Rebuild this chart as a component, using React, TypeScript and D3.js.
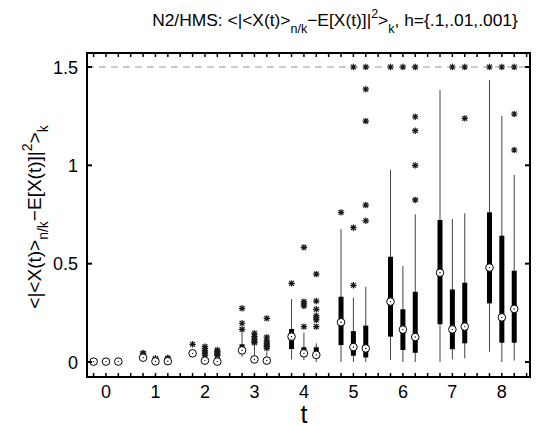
import React from "react";
import * as d3 from "d3";

// t groups and the three step sizes h per group
const groups = [0, 1, 2, 3, 4, 5, 6, 7, 8];
const hLabels = [".1", ".01", ".001"];

// box statistics, ordered t=0 (h=.1,.01,.001), t=1 (...), ...
const medians = [0.002, 0.002, 0.002, 0.022, 0.003, 0.004, 0.044, 0.007, 0.002, 0.059, 0.013, 0.007, 0.129, 0.044, 0.036, 0.202, 0.076, 0.069, 0.307, 0.165, 0.127, 0.454, 0.166, 0.18, 0.48, 0.227, 0.27];
const q1s = [0.001, 0.001, 0.001, 0.015, 0.001, 0.002, 0.04, 0.003, 0.001, 0.05, 0.005, 0.002, 0.066, 0.027, 0.019, 0.086, 0.032, 0.023, 0.129, 0.061, 0.047, 0.192, 0.065, 0.095, 0.298, 0.098, 0.098];
const q3s = [0.004, 0.004, 0.004, 0.035, 0.008, 0.012, 0.05, 0.02, 0.015, 0.09, 0.03, 0.02, 0.168, 0.075, 0.075, 0.332, 0.157, 0.185, 0.535, 0.268, 0.357, 0.722, 0.369, 0.403, 0.761, 0.642, 0.464];
const whiskLo = [0, 0, 0, 0.008, 0, 0, 0.035, 0, 0, 0.027, 0, 0, 0.013, 0.01, 0, 0, 0, 0, 0.01, 0, 0, 0, 0.013, 0.019, 0.052, 0, 0.007];
const whiskHi = [0.006, 0.006, 0.006, 0.04, 0.012, 0.015, 0.055, 0.03, 0.025, 0.15, 0.09, 0.05, 0.32, 0.15, 0.095, 0.676, 0.327, 0.383, 0.976, 0.488, 0.751, 1.383, 0.727, 0.756, 1.434, 1.251, 0.951];
const outliers: number[][] = [
  [], [], [],
  [0.042, 0.045], [0.015, 0.018], [0.018, 0.02],
  [0.09], [0.035, 0.045, 0.057, 0.068, 0.078], [0.034, 0.04, 0.047, 0.054, 0.061],
  [0.166, 0.197, 0.273], [0.098, 0.105, 0.115, 0.129, 0.146], [0.07, 0.078, 0.086, 0.096, 0.107, 0.126, 0.222],
  [0.4], [0.18, 0.285, 0.295, 0.307, 0.583], [0.18, 0.214, 0.225, 0.235, 0.268, 0.31, 0.447],
  [0.761], [0.39, 0.683, 1.5], [0.718, 0.798, 1.225, 1.387, 1.5],
  [1.5], [1.5], [0.824, 1.0, 1.176, 1.247, 1.5],
  [], [1.5], [1.239, 1.5],
  [1.5], [1.5], [1.078, 1.261, 1.5],
];
const yTicks = [0, 0.5, 1, 1.5];
const clipValue = 1.5;

const W = 539;
const H = 427;
const left = 87, right = 530, top = 53, bottom = 377;

export default function App() {
  const x = d3.scaleLinear().domain([0, 35]).range([93.6, 526.6]);
  const y = d3.scaleLinear().domain([0, 1.5]).range([362, 67]);
  const font = "'Liberation Sans', Arial, Helvetica, sans-serif";

  const boxes = medians.map((m, i) => {
    const g = Math.floor(i / 3);
    const j = i % 3;
    return { pos: g * 4 + j, med: m, q1: q1s[i], q3: q3s[i], lo: whiskLo[i], hi: whiskHi[i], out: outliers[i], h: hLabels[j] };
  });
  const tickPositions = d3.range(0, 36);
  const star = (cx: number, cy: number, k: string) => {
    const r = 3.2, d = 2.4;
    return (
      <path key={k} d={`M${cx - r},${cy}H${cx + r}M${cx},${cy - r}V${cy + r}M${cx - d},${cy - d}L${cx + d},${cy + d}M${cx - d},${cy + d}L${cx + d},${cy - d}`} stroke="#1a1a1a" strokeWidth={1.2} fill="none" />
    );
  };

  return (
    <svg width={W} height={H} style={{ position: "absolute", left: 0, top: 0, background: "#fff" }} fontFamily={font}>
      <rect x={0} y={0} width={W} height={H} fill="#fff" />
      {/* title */}
      <text x={335} y={26} fontSize={17.4} textAnchor="middle" fill="#000">
        <tspan>N2/HMS: &lt;|&lt;X(t)&gt;</tspan>
        <tspan fontSize={12.5} dy={7}>n/k</tspan>
        <tspan dy={-7}>−E[X(t)]|</tspan>
        <tspan fontSize={12.5} dy={-8}>2</tspan>
        <tspan dy={8}>&gt;</tspan>
        <tspan fontSize={12.5} dy={7}>k</tspan>
        <tspan dy={-7}>, h={"{"}.1,.01,.001{"}"}</tspan>
      </text>
      {/* y label */}
      <text transform={`translate(41,${(top + bottom) / 2 + 2}) rotate(-90)`} fontSize={19} textAnchor="middle" fill="#000">
        <tspan>&lt;|&lt;X(t)&gt;</tspan>
        <tspan fontSize={14} dy={7}>n/k</tspan>
        <tspan dy={-7}>−E[X(t)]|</tspan>
        <tspan fontSize={14} dy={-9}>2</tspan>
        <tspan dy={9}>&gt;</tspan>
        <tspan fontSize={14} dy={7}>k</tspan>
      </text>
      {/* dashed clip line */}
      <line x1={left} x2={right} y1={y(clipValue)} y2={y(clipValue)} stroke="#999" strokeWidth={1} strokeDasharray="7,5" />
      {/* boxes */}
      {boxes.map((b, i) => {
        const cx = x(b.pos);
        return (
          <g key={i}>
            <line x1={cx} x2={cx} y1={y(b.lo)} y2={y(b.hi)} stroke="#444" strokeWidth={1} />
            <rect x={cx - 2.5} width={5} y={y(b.q3)} height={Math.max(0.5, y(b.q1) - y(b.q3))} fill="#000" />
            {b.out.map((o, k) => star(cx, y(o), `${i}-${k}`))}
            <circle cx={cx} cy={y(b.med)} r={3.8} fill="#fff" stroke="#000" strokeWidth={1} />
            <circle cx={cx} cy={y(b.med)} r={0.7} fill="#000" />
          </g>
        );
      })}
      {/* frame */}
      <rect x={left} y={top} width={right - left} height={bottom - top} fill="none" stroke="#000" strokeWidth={2} />
      {/* x ticks */}
      {tickPositions.map((p) => (
        <g key={p}>
          <line x1={x(p)} x2={x(p)} y1={bottom} y2={bottom - 4} stroke="#000" strokeWidth={1.5} />
          <line x1={x(p)} x2={x(p)} y1={top} y2={top + 4} stroke="#000" strokeWidth={1.5} />
        </g>
      ))}
      {groups.map((g) => (
        <text key={g} x={x(g * 4 + 1)} y={398} fontSize={18} textAnchor="middle" fill="#000">{g}</text>
      ))}
      <text x={x(17)} y={423} fontSize={25} textAnchor="middle" fill="#000">t</text>
      {/* y ticks */}
      {yTicks.map((v) => (
        <g key={v}>
          <line x1={left} x2={left + 5} y1={y(v)} y2={y(v)} stroke="#000" strokeWidth={2} />
          <line x1={right} x2={right - 5} y1={y(v)} y2={y(v)} stroke="#000" strokeWidth={2} />
          <text x={78} y={y(v) + 6.5} fontSize={18} textAnchor="end" fill="#000">{v}</text>
        </g>
      ))}
    </svg>
  );
}
